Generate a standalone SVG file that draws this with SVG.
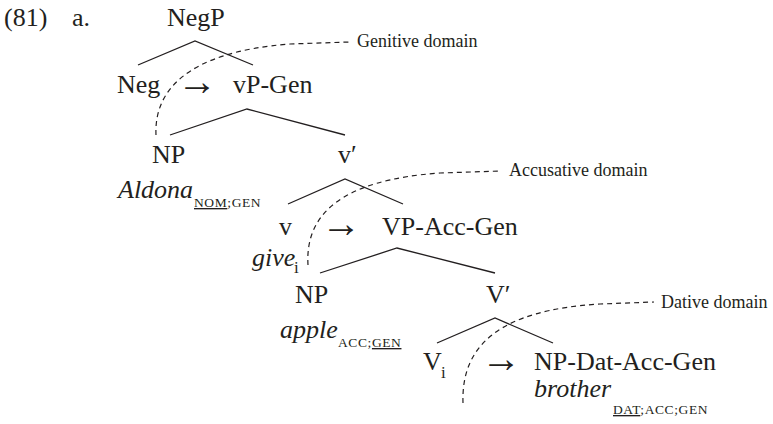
<svg xmlns="http://www.w3.org/2000/svg" width="773" height="424" viewBox="0 0 773 424" font-family="'Liberation Serif', 'Times New Roman', serif">
  <style>
    text { font-family: "Liberation Serif", "Times New Roman", serif; fill: #231f20; }
    .lab { font-size: 26px; }
    .arr { font-size: 40px; }
    .it { font-size: 26px; font-style: italic; }
    .sc { font-size: 13.5px; letter-spacing: 0.6px; font-style: normal; }
    .sub { font-size: 17px; font-style: normal; }
    .dom { font-size: 18px; }
    .u { text-decoration: underline; }
    .branch { stroke: #231f20; stroke-width: 1.3; fill: none; }
    .domain { stroke: #231f20; stroke-width: 1.2; fill: none; stroke-dasharray: 5 4; }
  </style>

  <text class="lab" x="4" y="26">(81)</text>
  <text class="lab" x="72" y="26">a.</text>

  <g id="negp">
    <text class="lab" x="167" y="26">NegP</text>
  </g>
  <g id="neg">
    <text class="lab" x="117" y="93">Neg</text>
    <text class="arr" x="177" y="95">→</text>
  </g>
  <g id="vp-gen">
    <text class="lab" x="233" y="93">vP-Gen</text>
  </g>
  <g id="np-aldona">
    <text class="lab" x="152" y="163">NP</text>
    <text class="it" x="118" y="198">Aldona</text>
    <text class="sc" x="194" y="207"><tspan class="u">NOM</tspan>;GEN</text>
  </g>
  <g id="v-bar">
    <text class="lab" x="338" y="163">v′</text>
  </g>
  <g id="v-give">
    <text class="lab" x="279" y="235">v</text>
    <text class="arr" x="321" y="237">→</text>
    <text class="it" x="252" y="266">give</text>
    <text class="sub" x="294" y="273">i</text>
  </g>
  <g id="vp-acc-gen">
    <text class="lab" x="382" y="235">VP-Acc-Gen</text>
  </g>
  <g id="np-apple">
    <text class="lab" x="295" y="303">NP</text>
    <text class="it" x="280" y="338">apple</text>
    <text class="sc" x="338" y="347">ACC;<tspan class="u">GEN</tspan></text>
  </g>
  <g id="V-bar">
    <text class="lab" x="486" y="303">V′</text>
  </g>
  <g id="V-i">
    <text class="lab" x="423" y="370">V</text>
    <text class="sub" x="441" y="378">i</text>
    <text class="arr" x="481" y="372">→</text>
  </g>
  <g id="np-dat-acc-gen">
    <text class="lab" x="534" y="370">NP-Dat-Acc-Gen</text>
    <text class="it" x="534" y="397">brother</text>
    <text class="sc" x="613" y="414"><tspan class="u">DAT</tspan>;ACC;GEN</text>
  </g>

  <g id="domain-labels">
    <text class="dom" x="357" y="47">Genitive domain</text>
    <text class="dom" x="509" y="176">Accusative domain</text>
    <text class="dom" x="661" y="308">Dative domain</text>
  </g>

  <g id="connectors">
    <path class="branch" d="M138,65 L195,41 L253,65"/>
    <path class="branch" d="M170,135 L247,109 L345,135"/>
    <path class="branch" d="M288,204 L345,179 L403,204"/>
    <path class="branch" d="M320,273 L397,248 L495,273"/>
    <path class="branch" d="M437,343 L495,318 L553,343"/>

    <path class="domain" d="M156,135 C154,92 185,52 290,44 L350,42"/>
    <path class="domain" d="M308,265 C305,215 340,180 440,173 L501,171"/>
    <path class="domain" d="M463,403 C461,345 500,310 600,304 L654,302"/>
  </g>
</svg>
